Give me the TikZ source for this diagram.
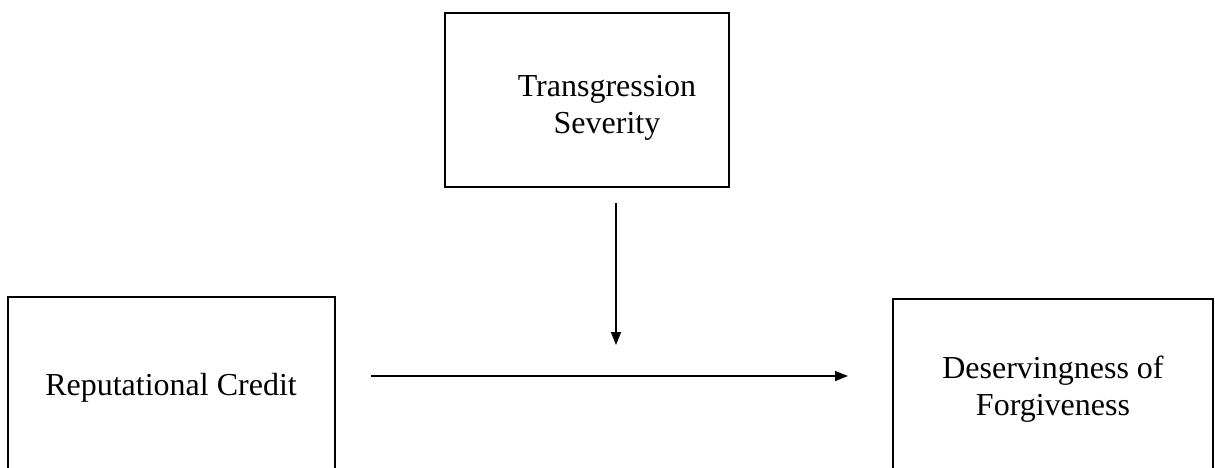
\documentclass[tikz,border=0pt]{standalone}
\usepackage{fontspec}
\setmainfont{Liberation Serif}
\usetikzlibrary{arrows.meta}
\begin{document}
\begin{tikzpicture}[x=1pt,y=-1pt,
  box/.style={draw, line width=1.3pt, rectangle, inner sep=0pt},
  label/.style={align=center, font=\fontsize{32}{37}\selectfont, inner sep=0pt},
  conn/.style={line width=1.5pt, -{Triangle[length=13pt,width=10pt]}}]
\useasboundingbox (0,0) rectangle (1215,467);
\clip (0,0) rectangle (1215,467);
% boxes
\node[box, minimum width=284pt, minimum height=174pt] (ts) at (587,100) {};
\node[box, minimum width=327pt, minimum height=182pt] (rc) at (171.5,388) {};
\node[box, minimum width=320pt, minimum height=180pt] (df) at (1053,389) {};
% texts
\node[label] (tst) at (607,108) {Transgression\\Severity};
\node[label] (rct) at (171,388) {Reputational Credit};
\node[label] (dft) at (1053,389) {Deservingness of\\Forgiveness};
% connectors
\coordinate (hs) at (371,376);
\coordinate (he) at (848,376);
\coordinate (vs) at (616,203);
\coordinate (ve) at (616,345);
\draw[conn] (hs) -- (he);
\draw[conn] (vs) -- (ve);
\end{tikzpicture}
\end{document}
